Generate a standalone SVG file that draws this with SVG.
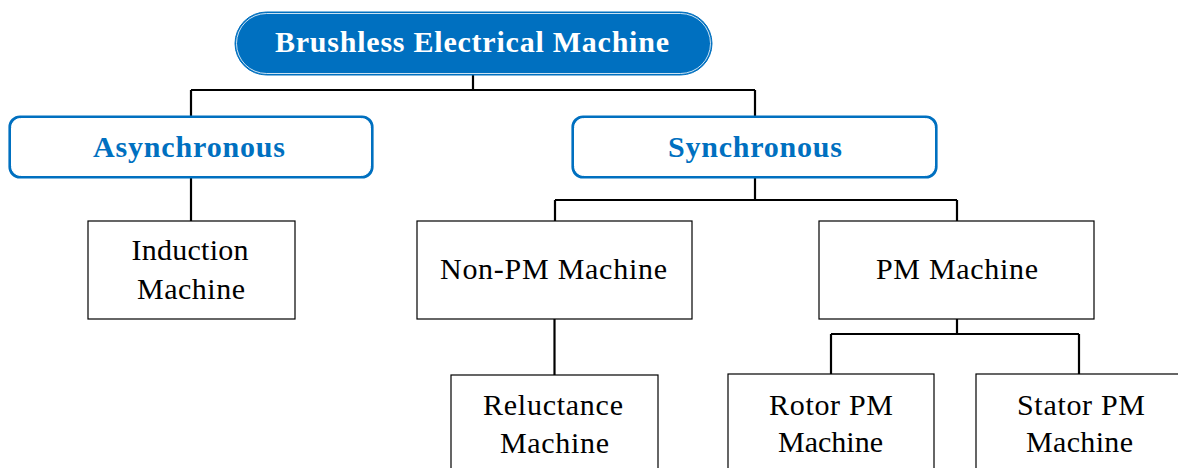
<svg xmlns="http://www.w3.org/2000/svg" width="1178" height="468" viewBox="0 0 1178 468">
<style>
.conn{fill:none;stroke:#000;stroke-width:2.2}
.box{fill:#fff;stroke:#000;stroke-width:1.2}
.t{font-family:"Liberation Serif","Times New Roman",serif;font-size:30px;fill:#000;text-anchor:middle}
.hb{font-family:"Liberation Serif","Times New Roman",serif;font-weight:bold;font-size:30px;text-anchor:middle}
.cat{fill:#fff;stroke:#0070C0;stroke-width:3.2}
.catin{fill:none;stroke:#fff;stroke-width:1}
</style>
<rect width="1178" height="468" fill="#fff"/>
<g id="connectors">
<path class="conn" d="M473 75V90M191 90H755M191 90V116M755 90V116"/>
<path class="conn" d="M191 178V221"/>
<path class="conn" d="M755 178V200M555 200H957M555 200V221M957 200V221"/>
<path class="conn" d="M554.5 319V375"/>
<path class="conn" d="M957 319V334M831 334H1079M831 334V374M1079 334V374"/>
</g>
<g id="root">
<rect x="235" y="12" width="477" height="63" rx="31.5" fill="#0070C0" stroke="#0070C0" stroke-width="1"/>
<rect x="236.5" y="13.5" width="474" height="60" rx="30" fill="none" stroke="#fff" stroke-width="0.8"/>
<text class="hb" x="472" y="52" fill="#fff" font-size="31" textLength="394" lengthAdjust="spacing">Brushless Electrical Machine</text>
</g>
<g id="asynchronous">
<rect class="cat" x="10" y="117" width="362" height="60" rx="10"/>
<rect class="catin" x="11.5" y="118.5" width="359" height="57" rx="9"/>
<text class="hb" x="189" y="156.5" fill="#0070C0" textLength="192" lengthAdjust="spacing">Asynchronous</text>
</g>
<g id="synchronous">
<rect class="cat" x="573" y="117" width="363" height="60" rx="10"/>
<rect class="catin" x="574.5" y="118.5" width="360" height="57" rx="9"/>
<text class="hb" x="755" y="156.5" fill="#0070C0" textLength="174" lengthAdjust="spacing">Synchronous</text>
</g>
<g id="induction">
<rect class="box" x="88" y="221" width="207" height="98"/>
<text class="t" x="190" y="259.5" textLength="117" lengthAdjust="spacing">Induction</text>
<text class="t" x="191" y="298.5" textLength="108" lengthAdjust="spacing">Machine</text>
</g>
<g id="nonpm">
<rect class="box" x="417" y="221" width="275" height="98"/>
<text class="t" x="553.5" y="278.5" textLength="227" lengthAdjust="spacing">Non-PM Machine</text>
</g>
<g id="pm">
<rect class="box" x="819" y="221" width="275" height="98"/>
<text class="t" x="957" y="278.5" textLength="162" lengthAdjust="spacing">PM Machine</text>
</g>
<g id="reluctance">
<rect class="box" x="451" y="375" width="207" height="100"/>
<text class="t" x="553" y="415" textLength="140" lengthAdjust="spacing">Reluctance</text>
<text class="t" x="554.5" y="452.5" textLength="109" lengthAdjust="spacing">Machine</text>
</g>
<g id="rotorpm">
<rect class="box" x="728" y="374" width="206" height="100"/>
<text class="t" x="831" y="415" textLength="124" lengthAdjust="spacing">Rotor PM</text>
<text class="t" x="830.5" y="452" textLength="105" lengthAdjust="spacing">Machine</text>
</g>
<g id="statorpm">
<rect class="box" x="976" y="374" width="206" height="100"/>
<text class="t" x="1081" y="415" textLength="128" lengthAdjust="spacing">Stator PM</text>
<text class="t" x="1079.5" y="452" textLength="107" lengthAdjust="spacing">Machine</text>
</g>
</svg>
